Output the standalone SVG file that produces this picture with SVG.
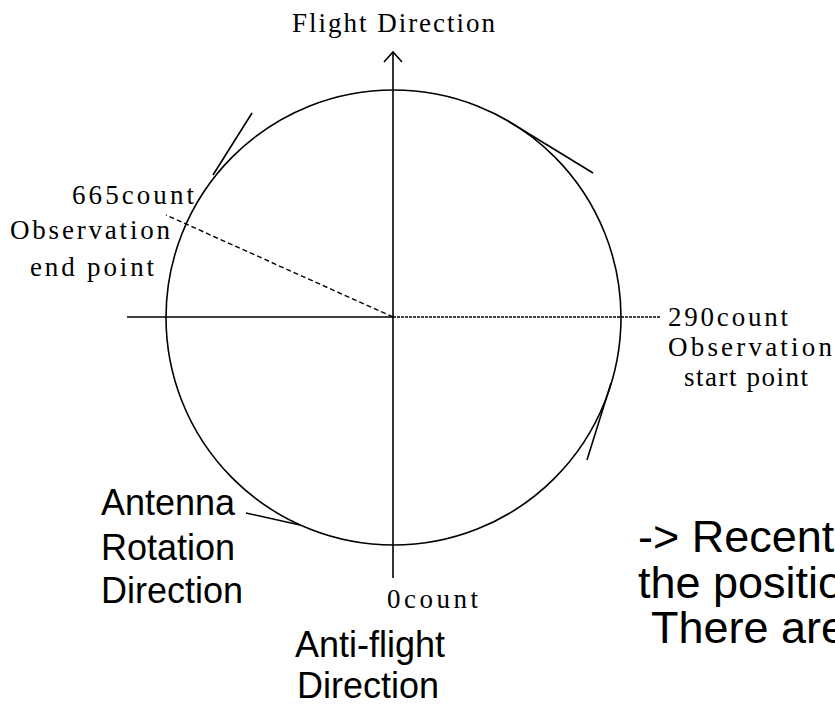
<svg xmlns="http://www.w3.org/2000/svg" width="835" height="706" viewBox="0 0 835 706">
<style>
.ln{stroke:#000;stroke-width:1.6;fill:none;stroke-linecap:butt}
.dash{stroke:#000;stroke-width:1.4;fill:none;stroke-dasharray:5 3}
.dot{stroke:#000;stroke-width:1.4;fill:none;stroke-dasharray:3 1}
.sr{font-family:"Liberation Serif","DejaVu Serif",serif;font-size:27px;fill:#000}
.ss{font-family:"Liberation Sans",Arial,sans-serif;font-size:36px;fill:#000}
.big{font-family:"Liberation Sans",Arial,sans-serif;font-size:45px;fill:#000}
</style>
<rect width="835" height="706" fill="#fff"/>
<g id="connectors">
<circle class="ln" cx="393.5" cy="317.5" r="227.5"/>
<line class="ln" x1="393" y1="52" x2="393" y2="578"/>
<polyline class="ln" points="384,62 393,52 402,62"/>
<line class="ln" x1="127" y1="317" x2="393" y2="317"/>
<line class="dot" x1="393" y1="317" x2="660" y2="317"/>
<line class="dash" x1="393" y1="317" x2="166" y2="215"/>
<line class="ln" x1="252" y1="113" x2="213" y2="175"/>
<line class="ln" x1="508" y1="121" x2="593" y2="173"/>
<line class="ln" x1="611" y1="383" x2="587" y2="460"/>
<line class="ln" x1="246" y1="513" x2="300" y2="525"/>
</g>
<g id="flight-direction"><text class="sr" x="292" y="32" textLength="203" lengthAdjust="spacing">Flight Direction</text></g>
<g id="end-point">
<text class="sr" x="72" y="204" textLength="122" lengthAdjust="spacing">665count</text>
<text class="sr" x="10" y="239" textLength="160" lengthAdjust="spacing">Observation</text>
<text class="sr" x="30" y="276" textLength="124" lengthAdjust="spacing">end point</text>
</g>
<g id="start-point">
<text class="sr" x="668" y="326" textLength="120" lengthAdjust="spacing">290count</text>
<text class="sr" x="668" y="356" textLength="164" lengthAdjust="spacing">Observation</text>
<text class="sr" x="684" y="386" textLength="124" lengthAdjust="spacing">start point</text>
</g>
<g id="zero-count"><text class="sr" x="387" y="608" textLength="91" lengthAdjust="spacing">0count</text></g>
<g id="antenna-rotation">
<text class="ss" x="101" y="515">Antenna</text>
<text class="ss" x="101" y="560">Rotation</text>
<text class="ss" x="101" y="603">Direction</text>
</g>
<g id="anti-flight">
<text class="ss" x="295" y="657">Anti-flight</text>
<text class="ss" x="297" y="698">Direction</text>
</g>
<g id="note">
<text class="big" x="638" y="552">-&gt; Recent</text>
<text class="big" x="638" y="598">the positio</text>
<text class="big" x="651" y="643">There are</text>
</g>
</svg>
